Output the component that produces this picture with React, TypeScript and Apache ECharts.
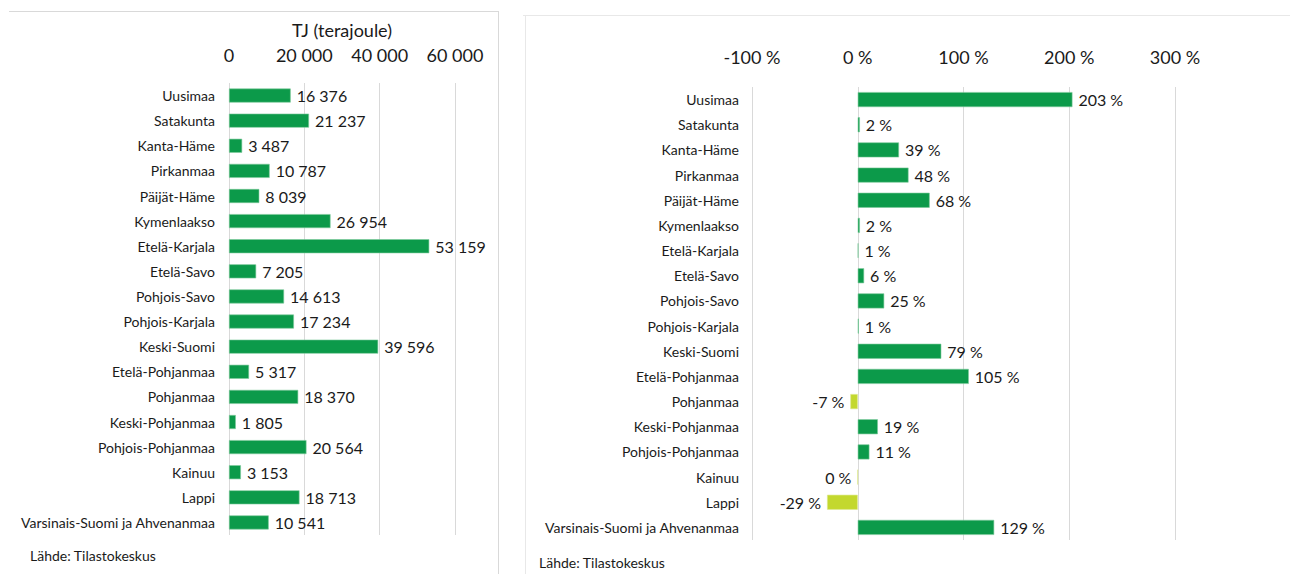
import React, { useEffect, useRef } from "react";
import * as echarts from "echarts";

const categories = [
  "Uusimaa",
  "Satakunta",
  "Kanta-Häme",
  "Pirkanmaa",
  "Päijät-Häme",
  "Kymenlaakso",
  "Etelä-Karjala",
  "Etelä-Savo",
  "Pohjois-Savo",
  "Pohjois-Karjala",
  "Keski-Suomi",
  "Etelä-Pohjanmaa",
  "Pohjanmaa",
  "Keski-Pohjanmaa",
  "Pohjois-Pohjanmaa",
  "Kainuu",
  "Lappi",
  "Varsinais-Suomi ja Ahvenanmaa",
];

const energyTJ = [
  16376, 21237, 3487, 10787, 8039, 26954, 53159, 7205, 14613, 17234, 39596,
  5317, 18370, 1805, 20564, 3153, 18713, 10541,
];

const changePct = [
  203, 2, 39, 48, 68, 2, 0.6, 6, 25, 1, 79, 105, -7, 19, 11, -0.2, -29, 129,
];

const tjAxis = { min: 0, max: 60000, interval: 20000, name: "TJ (terajoule)" };
const pctAxis = { min: -100, max: 300, interval: 100 };
const sourceText = "Lähde: Tilastokeskus";

const GREEN = "#0c9a4a";
const LIME = "#c3d82e";
const GRID = "#d9d9d9";
const TEXT = "#1a1a1a";
const FONT = "Lato, 'Open Sans', sans-serif";

const fmtThousands = (v: number) =>
  String(Math.round(v)).replace(/\B(?=(\d{3})+(?!\d))/g, " ");
const fmtPct = (v: number) => `${Math.round(v)} %`;

export default function App() {
  const ref = useRef<HTMLDivElement>(null);

  useEffect(() => {
    if (!ref.current) return;
    const chart = echarts.init(ref.current, undefined, { renderer: "svg" });
    const option: any = {
      animation: false,
      textStyle: { fontFamily: FONT },
      grid: [
        { left: 229, top: 83, width: 226, height: 452, containLabel: false },
        { left: 752, top: 87, width: 423, height: 453, containLabel: false },
      ],
      xAxis: [
        {
          type: "value",
          gridIndex: 0,
          position: "top",
          min: tjAxis.min,
          max: tjAxis.max,
          interval: tjAxis.interval,
          name: tjAxis.name,
          nameLocation: "middle",
          nameGap: 44,
          nameTextStyle: { fontSize: 18, color: TEXT, fontFamily: FONT },
          axisLine: { show: false },
          axisTick: { show: false },
          axisLabel: {
            fontSize: 18,
            color: TEXT,
            margin: 19,
            fontFamily: FONT,
            formatter: (v: number) => fmtThousands(v),
          },
          splitLine: { show: true, lineStyle: { color: GRID, width: 1 } },
        },
        {
          type: "value",
          gridIndex: 1,
          position: "top",
          min: pctAxis.min,
          max: pctAxis.max,
          interval: pctAxis.interval,
          axisLine: { show: false },
          axisTick: { show: false },
          axisLabel: {
            fontSize: 18,
            color: TEXT,
            margin: 21,
            fontFamily: FONT,
            formatter: (v: number) => `${v} %`,
          },
          splitLine: { show: true, lineStyle: { color: GRID, width: 1 } },
        },
      ],
      yAxis: [
        {
          type: "category",
          gridIndex: 0,
          inverse: true,
          data: categories,
          axisLine: { show: false },
          axisTick: { show: false },
          axisLabel: { fontSize: 14, color: TEXT, margin: 14, fontFamily: FONT },
        },
        {
          type: "category",
          gridIndex: 1,
          inverse: true,
          data: categories,
          axisLine: { show: false },
          axisTick: { show: false },
          axisLabel: { fontSize: 14, color: TEXT, margin: 13, fontFamily: FONT },
        },
      ],
      series: [
        {
          type: "bar",
          xAxisIndex: 0,
          yAxisIndex: 0,
          data: energyTJ,
          barWidth: 14,
          itemStyle: { color: GREEN, borderColor: "#7cc99a", borderWidth: 0.6 },
          label: {
            show: true,
            position: "right",
            distance: 6,
            fontSize: 16,
            color: TEXT,
            fontFamily: FONT,
            formatter: (p: any) => fmtThousands(p.value),
          },
        },
        {
          type: "bar",
          xAxisIndex: 1,
          yAxisIndex: 1,
          barWidth: 15,
          data: changePct.map((v) => ({
            value: v,
            itemStyle: {
              color: v < 0 ? LIME : GREEN,
              borderColor: v < 0 ? "#dbe88a" : "#7cc99a",
              borderWidth: 0.6,
            },
            label: { position: v < 0 ? "left" : "right" },
          })),
          label: {
            show: true,
            distance: 6,
            fontSize: 16,
            color: TEXT,
            fontFamily: FONT,
            formatter: (p: any) => fmtPct(p.value),
          },
        },
      ],
      graphic: [
        {
          type: "line",
          shape: { x1: 9, y1: 11.5, x2: 498, y2: 11.5 },
          style: { stroke: GRID, lineWidth: 1 },
          silent: true,
        },
        {
          type: "line",
          shape: { x1: 498.5, y1: 11, x2: 498.5, y2: 574 },
          style: { stroke: GRID, lineWidth: 1 },
          silent: true,
        },
        {
          type: "line",
          shape: { x1: 523, y1: 15.5, x2: 1290, y2: 15.5 },
          style: { stroke: "#e8e8e8", lineWidth: 1 },
          silent: true,
        },
        {
          type: "line",
          shape: { x1: 525.5, y1: 15, x2: 525.5, y2: 574 },
          style: { stroke: "#e8e8e8", lineWidth: 1 },
          silent: true,
        },
        {
          type: "text",
          left: 30,
          top: 548,
          style: { text: sourceText, fontSize: 14, fill: TEXT, fontFamily: FONT },
        },
        {
          type: "text",
          left: 539,
          top: 555,
          style: { text: sourceText, fontSize: 14, fill: TEXT, fontFamily: FONT },
        },
      ],
    };
    chart.setOption(option);
    return () => chart.dispose();
  }, []);

  return (
    <div
      ref={ref}
      style={{
        position: "absolute",
        left: 0,
        top: 0,
        width: 1290,
        height: 574,
        background: "#ffffff",
      }}
    />
  );
}
